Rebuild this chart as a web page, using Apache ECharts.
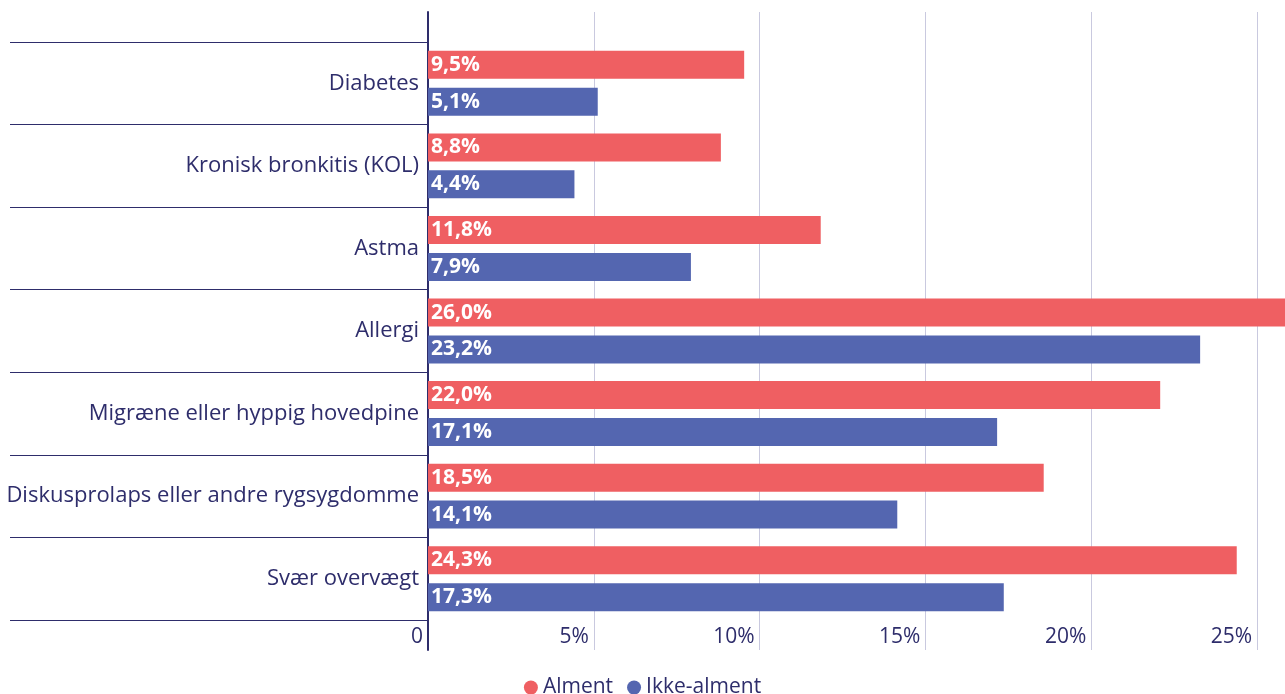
<!DOCTYPE html>
<html><head><meta charset="utf-8">
<script src="https://cdn.jsdelivr.net/npm/echarts@6/dist/echarts.min.js"></script>
<style>html,body{margin:0;padding:0;background:#fff;overflow:hidden}#c{width:1285px;height:694px}</style>
</head><body><div id="c"></div>
<script>
var categories = ['Diabetes','Kronisk bronkitis (KOL)','Astma','Allergi','Migræne eller hyppig hovedpine','Diskusprolaps eller andre rygsygdomme','Svær overvægt'];
var alment = [9.5, 8.8, 11.8, 26.0, 22.0, 18.5, 24.3];
var ikkeAlment = [5.1, 4.4, 7.9, 23.2, 17.1, 14.1, 17.3];
var seriesNames = ['Alment','Ikke-alment'];

var NAVY = '#2e2d6b';
var FONT = '"Open Sans", Lato, sans-serif';
var AXMAX = 25.75;
var chart = echarts.init(document.getElementById('c'), null, {renderer:'canvas', width:1285, height:694});
function fmtPct(v){ return v.toFixed(1).replace('.', ',') + '%'; }
var labelStyle = {show:true, position:'insideLeft', distance:3, color:'#fff', fontWeight:'bold', fontSize:21, fontFamily:FONT,
  formatter:function(p){return fmtPct(p.value);}};
chart.setOption({
  animation:false,
  textStyle:{fontFamily:FONT},
  legend:{bottom:-9, left:'center', icon:'circle', itemWidth:14, itemHeight:14, itemGap:14,
    textStyle:{color:NAVY, fontSize:21, fontFamily:FONT}, data:seriesNames},
  grid:[
    {left:428, right:0, top:12, bottom:44},
    {left:428, right:0, top:42, bottom:74}
  ],
  xAxis:[
    {gridIndex:0, type:'value', min:0, max:AXMAX, interval:5,
      axisLine:{show:false}, axisTick:{show:false},
      splitLine:{show:true, showMaxLine:false, lineStyle:{color:'#c9c9df', width:1}},
      axisLabel:{inside:true, align:'right', padding:[0,5,0,0], margin:2, color:NAVY, fontSize:21, fontFamily:FONT,
        formatter:function(v){ if(v===0) return '0'; if(v%5!==0) return ''; return v+'%'; }}},
    {gridIndex:1, type:'value', min:0, max:AXMAX, interval:5, show:false}
  ],
  yAxis:[
    {gridIndex:0, type:'value', min:0, max:1, axisLine:{show:true, lineStyle:{color:NAVY, width:2}},
      axisTick:{show:false}, axisLabel:{show:false}, splitLine:{show:false}},
    {gridIndex:1, type:'category', data:categories, inverse:true,
      axisLine:{show:false},
      axisTick:{show:true, length:418, lineStyle:{color:NAVY, width:1.2}},
      axisLabel:{color:NAVY, fontSize:22, margin:9, fontFamily:FONT}}
  ],
  series:[
    {name:seriesNames[0], type:'bar', xAxisIndex:1, yAxisIndex:1, data:alment, barWidth:28, barGap:'32%',
      itemStyle:{color:'#ef5f62'}, label:labelStyle},
    {name:seriesNames[1], type:'bar', xAxisIndex:1, yAxisIndex:1, data:ikkeAlment, barWidth:28, barGap:'32%',
      itemStyle:{color:'#5466b0'}, label:labelStyle}
  ]
});
</script></body></html>
